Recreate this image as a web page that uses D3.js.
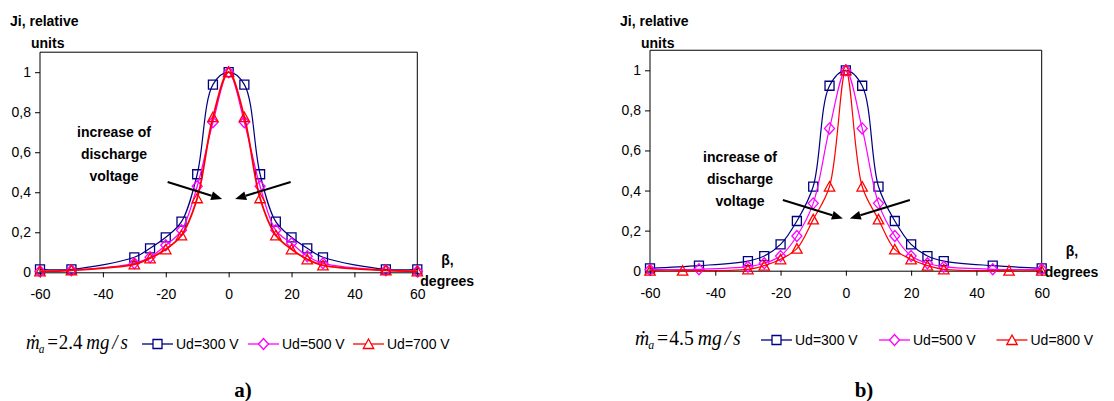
<!DOCTYPE html>
<html>
<head>
<meta charset="utf-8">
<script src="https://cdn.jsdelivr.net/npm/d3@7"></script>
<style>
  html, body { margin: 0; padding: 0; background: #fff; }
  svg { display: block; }
</style>
</head>
<body>
<svg id="chart" width="1114" height="401"></svg>
<script>
// ---------- DATA ----------
const xTicks = [-60, -40, -20, 0, 20, 40, 60];
const yTicks = [0, 0.2, 0.4, 0.6, 0.8, 1];

// Panel a) mass flow 2.4 mg/s
const anglesA = [-60, -50, -30, -25, -20, -15, -10, -5, 0, 5, 10, 15, 20, 25, 30, 50, 60];
const a_ud300 = [0.015, 0.015, 0.075, 0.12, 0.175, 0.253, 0.49, 0.938, 1.0, 0.938, 0.49, 0.253, 0.175, 0.12, 0.075, 0.015, 0.015];
const a_ud500 = [0.005, 0.01, 0.045, 0.075, 0.135, 0.21, 0.43, 0.75, 1.0, 0.75, 0.43, 0.21, 0.145, 0.08, 0.045, 0.01, 0.005];
const a_ud700 = [0.005, 0.01, 0.04, 0.07, 0.115, 0.185, 0.37, 0.775, 1.0, 0.775, 0.37, 0.185, 0.115, 0.065, 0.035, 0.01, 0.005];

// Panel b) mass flow 4.5 mg/s
const anglesB_300 = [-60, -45, -30, -25, -20, -15, -10, -5, 0, 5, 10, 15, 20, 25, 30, 45, 60];
const b_ud300 = [0.012, 0.025, 0.048, 0.073, 0.131, 0.248, 0.42, 0.923, 1.0, 0.923, 0.42, 0.248, 0.131, 0.073, 0.048, 0.025, 0.012];
const anglesB_500 = [-60, -45, -30, -25, -20, -15, -10, -5, 0, 5, 10, 15, 20, 25, 30, 45, 60];
const b_ud500 = [0.005, 0.007, 0.02, 0.037, 0.073, 0.173, 0.336, 0.71, 1.0, 0.71, 0.336, 0.173, 0.073, 0.037, 0.02, 0.007, 0.007];
const anglesB_800 = [-60, -50, -30, -25, -20, -15, -10, -5, 0, 5, 10, 15, 20, 25, 30, 50, 60];
const b_ud800 = [0.0, 0.0, 0.007, 0.025, 0.057, 0.11, 0.256, 0.42, 1.0, 0.42, 0.256, 0.106, 0.057, 0.025, 0.007, 0.0, 0.0];

const seriesNamesA = ["Ud=300 V", "Ud=500 V", "Ud=700 V"];
const seriesNamesB = ["Ud=300 V", "Ud=500 V", "Ud=800 V"];
const colors = ["#000080", "#FF00FF", "#FF0000"];
const shapes = ["square", "diamond", "triangle"];

// ---------- DRAWING ----------
const svg = d3.select("#chart");
const SANS = "'Liberation Sans', Arial, sans-serif";
const SERIF = "'Liberation Serif', 'Times New Roman', serif";

function markerPath(shape) {
  if (shape === "square") return "M-4.5,-4.5H4.5V4.5H-4.5Z";
  if (shape === "diamond") return "M0,-5.5L5,0L0,5.5L-5,0Z";
  return "M0,-5L5.2,4.5H-5.2Z";
}

function panel(cfg) {
  const g = svg.append("g");
  const x = d3.scaleLinear().domain([-60, 60]).range([cfg.left, cfg.right]);
  const y = d3.scaleLinear().domain([0, 1.1]).range([cfg.y0, cfg.y0 - (cfg.y0 - cfg.y1) * 1.1]);

  // frame (left, top, right)
  g.append("path")
    .attr("d", `M${x(-60)},${y(0)}V${y(1.1)}H${x(60)}V${y(0)}`)
    .attr("fill", "none").attr("stroke", "#000").attr("stroke-width", 1);

  // x axis
  const xAxis = g.append("g").attr("transform", `translate(0,${y(0)})`)
    .call(d3.axisBottom(x).tickValues(xTicks).tickSize(5).tickPadding(12).tickFormat(d => String(d)));
  xAxis.select(".domain").attr("stroke", "#000");
  xAxis.selectAll("text").attr("font-family", SANS).attr("font-size", 14).attr("fill", "#000");

  // y axis
  const yAxis = g.append("g").attr("transform", `translate(${x(-60)},0)`)
    .call(d3.axisLeft(y).tickValues(yTicks).tickSize(5).tickPadding(4)
      .tickFormat(d => d === 0 || d === 1 ? String(d) : d3.format(".1f")(d).replace(".", ",")));
  yAxis.select(".domain").remove();
  yAxis.selectAll("text").attr("font-family", SANS).attr("font-size", 14).attr("fill", "#000");

  // series
  const line = d3.line().curve(d3.curveCatmullRom.alpha(0.5)).x(d => x(d[0])).y(d => y(d[1]));
  cfg.series.forEach((s, i) => {
    const pts = s.angles.map((a, k) => [a, s.values[k]]);
    g.append("path").datum(pts).attr("d", line)
      .attr("fill", "none").attr("stroke", colors[i]).attr("stroke-width", s.width || 1.2);
    g.selectAll(null).data(pts).enter().append("path")
      .attr("transform", d => `translate(${x(d[0])},${y(d[1])})`)
      .attr("d", markerPath(shapes[i]))
      .attr("fill", "none").attr("stroke", colors[i]).attr("stroke-width", 1.3);
  });

  // axis titles
  const bold = (tx, ty, txt, anchor) => g.append("text").attr("x", tx).attr("y", ty)
    .attr("font-family", SANS).attr("font-weight", "bold").attr("font-size", 14)
    .attr("text-anchor", anchor || "start").attr("fill", "#000").text(txt);
  bold(cfg.left - 30, cfg.titleY, "Ji, relative");
  bold(cfg.left - 9, cfg.titleY + 22, "units");
  bold(cfg.right + 24, cfg.betaY, "β,");
  bold(cfg.right + 3, cfg.betaY + 21, "degrees");

  // annotation
  const ax = cfg.annX;
  ["increase of", "discharge", "voltage"].forEach((t, k) => bold(ax, cfg.annY + 22 * k, t, "middle"));
  const cx = x(0);
  const arrow = (x1, y1, x2, y2) => {
    const ang = Math.atan2(y2 - y1, x2 - x1);
    const L = 11, W = 4.5;
    const bx = x2 - L * Math.cos(ang), by = y2 - L * Math.sin(ang);
    g.append("line").attr("x1", x1).attr("y1", y1).attr("x2", bx).attr("y2", by)
      .attr("stroke", "#000").attr("stroke-width", 2);
    g.append("path").attr("d",
      `M${x2},${y2}L${bx + W * Math.sin(ang)},${by - W * Math.cos(ang)}L${bx - W * Math.sin(ang)},${by + W * Math.cos(ang)}Z`)
      .attr("fill", "#000");
  };
  arrow(cx - cfg.arrDx1, cfg.arrY1, cx - cfg.arrDx2, cfg.arrY2);
  arrow(cx + cfg.arrDx1 + cfg.arrR, cfg.arrY1, cx + cfg.arrDx2 + cfg.arrR2, cfg.arrY2);

  // legend
  const lg = g.append("g");
  const mg = lg.append("g");
  const mt = mg.append("text").attr("x", 0).attr("y", 0)
    .attr("font-family", SERIF).attr("font-size", 20).attr("fill", "#000");
  mt.append("tspan").attr("font-style", "italic").text("ṁ");
  mt.append("tspan").attr("font-style", "italic").attr("font-size", 12).attr("dy", 4).attr("dx", -1).text("a");
  mt.append("tspan").attr("dy", -4).attr("dx", 3).text("=");
  mt.append("tspan").attr("dx", 1).text(cfg.flow);
  mt.append("tspan").attr("font-style", "italic").attr("dx", 4).text("mg");
  mt.append("tspan").attr("font-style", "italic").attr("dx", 3).text("/");
  mt.append("tspan").attr("font-style", "italic").attr("dx", 3).text("s");
  const bb = mt.node().getBBox();
  const sx = cfg.legMW / bb.width;
  mg.attr("transform", `translate(${cfg.legM - bb.x * sx},${cfg.legY + 1}) scale(${sx},1)`);

  cfg.legItems.forEach((lx, i) => {
    const ly = cfg.legY - 4;
    lg.append("line").attr("x1", lx).attr("x2", lx + 31).attr("y1", ly).attr("y2", ly)
      .attr("stroke", colors[i]).attr("stroke-width", 1.3);
    lg.append("path").attr("transform", `translate(${lx + 15.5},${ly})`).attr("d", markerPath(shapes[i]))
      .attr("fill", "#fff").attr("stroke", colors[i]).attr("stroke-width", 1.3);
    lg.append("text").attr("x", lx + 34).attr("y", cfg.legY + 1)
      .attr("font-family", SANS).attr("font-size", 14).attr("fill", "#000").text(cfg.names[i]);
  });

  // caption
  g.append("text").attr("x", cfg.capX).attr("y", 397).attr("text-anchor", "middle")
    .attr("font-family", SERIF).attr("font-weight", "bold").attr("font-size", 21).attr("fill", "#000")
    .text(cfg.caption);
}

panel({
  left: 40, right: 417.3, y0: 272.3, y1: 72.2,
  titleY: 26, betaY: 265,
  annX: 114, annY: 137,
  arrDx1: 61, arrY1: 182, arrDx2: 6.5, arrY2: 199, arrR: 1, arrR2: 0,
  legM: 26, legMW: 102, legY: 348, legItems: [142, 248, 353],
  flow: "2.4", names: seriesNamesA, caption: "a)", capX: 243,
  series: [
    { angles: anglesA, values: a_ud300, width: 1.2 },
    { angles: anglesA, values: a_ud500, width: 1.3 },
    { angles: anglesA, values: a_ud700, width: 1.8 }
  ]
});

panel({
  left: 650, right: 1041.7, y0: 270.7, y1: 70.3,
  titleY: 26, betaY: 256,
  annX: 740, annY: 162,
  arrDx1: 63, arrY1: 200, arrDx2: 3, arrY2: 218.5, arrR: 1, arrR2: 1,
  legM: 635, legMW: 106, legY: 344, legItems: [761, 879, 996.5],
  flow: "4.5", names: seriesNamesB, caption: "b)", capX: 864,
  series: [
    { angles: anglesB_300, values: b_ud300, width: 1.2 },
    { angles: anglesB_500, values: b_ud500, width: 1.2 },
    { angles: anglesB_800, values: b_ud800, width: 1.2 }
  ]
});
</script>
</body>
</html>
